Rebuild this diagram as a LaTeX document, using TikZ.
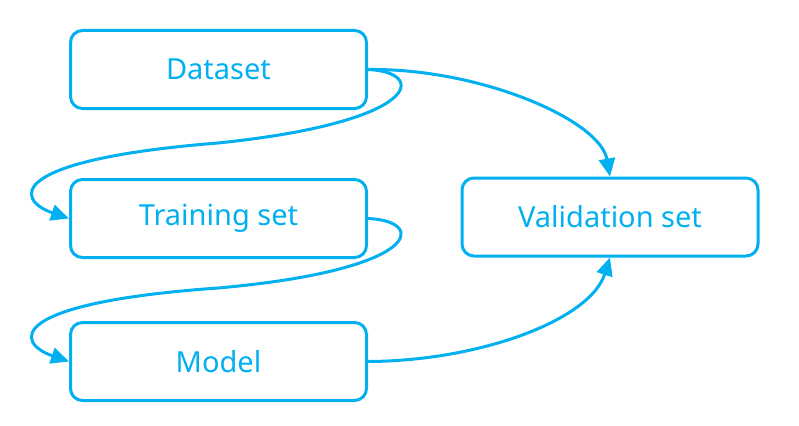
\documentclass[tikz,border=0pt]{standalone}
\usepackage{fontspec}
\setmainfont{Noto Sans}
\usetikzlibrary{arrows.meta,positioning}
\definecolor{Sky}{HTML}{00B0F0}
\tikzset{box/.style={rounded corners=12pt,draw=Sky,line width=3pt,fill=white,text=Sky,minimum width=296pt,minimum height=78pt,align=center,font=\fontsize{29}{34}\selectfont},flow/.style={-{Triangle[length=18pt,width=16pt]},line width=3pt,draw=Sky}}

\begin{document}
\begin{tikzpicture}[x=1pt,y=-1pt]
      \useasboundingbox (0,0) rectangle (799,425);
      \node[box](ds) at (218.5,69.5){Dataset};
      \node[box](tr) at (218.5,218.5){Training set};
      \node[box](md) at (218.5,361.5){Model};
      \node[box](vs) at (610,217){Validation set};
      \draw[flow](ds.east) .. controls (428,72) and (422,122) .. (218,143) .. controls (5,160) and (15,200) .. (tr.west);
      \draw[flow](tr.east) .. controls (428,221) and (422,270) .. (218,288) .. controls (5,303) and (15,343) .. (md.west);
      \draw[flow](ds.east) .. controls (480,68) and (600,120) .. (vs.north);
      \draw[flow](md.east) .. controls (480,361) and (590,320) .. (vs.south);
    \end{tikzpicture}
\end{document}
